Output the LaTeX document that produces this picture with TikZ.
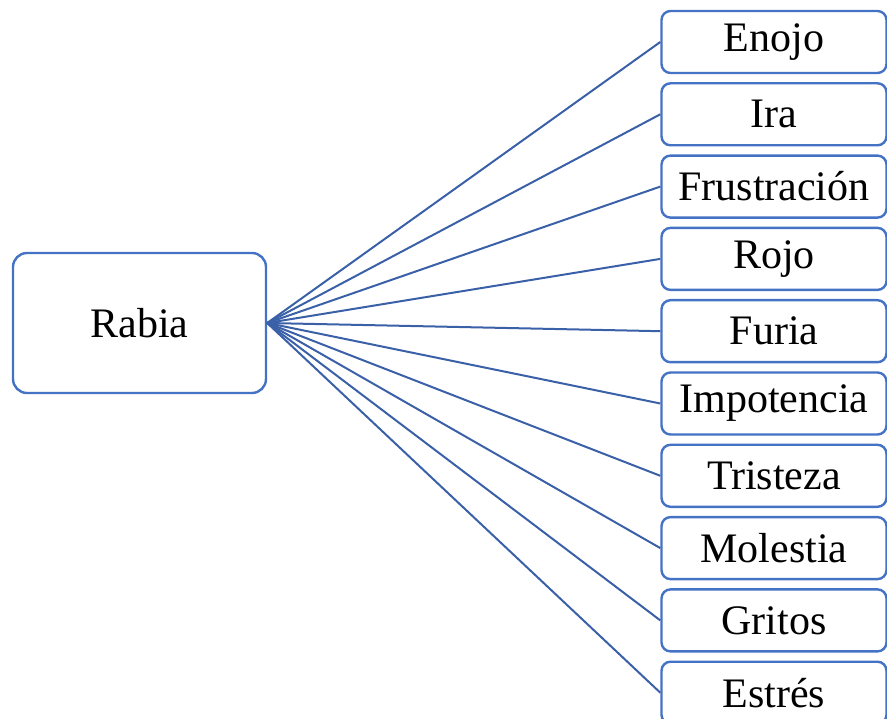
\documentclass[tikz,border=0pt]{standalone}
\usepackage{fontspec}
\setmainfont{Liberation Serif}
\definecolor{boxblue}{RGB}{68,114,196}
\definecolor{lineblue}{RGB}{58,96,168}
\begin{document}
\begin{tikzpicture}[x=1pt,y=-1pt,
  wordbox/.style={draw=boxblue, line width=2.4pt, rounded corners=9pt, fill=white,
    minimum width=225pt, minimum height=62pt, inner sep=0pt,
    font=\fontsize{42}{50}\selectfont},
  mainbox/.style={draw=boxblue, line width=2.4pt, rounded corners=14pt, fill=white,
    minimum width=253pt, minimum height=140pt, inner sep=0pt,
    font=\fontsize{42}{50}\selectfont},
  link/.style={draw=lineblue, line width=2pt}]
\useasboundingbox (0,0) rectangle (887,719);
\begin{scope}
\clip (0,0) rectangle (887,719);
\node[mainbox] (rabia) at (139.5,323) {Rabia};
\foreach \name/\word [count=\i from 0] in {enojo/Enojo, ira/Ira, frus/Frustración,
    rojo/Rojo, furia/Furia, impo/Impotencia, tris/Tristeza, mole/Molestia,
    grit/Gritos, estr/Estrés}{
  \node[wordbox] (\name) at (774, 42+72.3*\i) {\word};
  \draw[link] (rabia.east) -- (\name.west);
}
\end{scope}
\end{tikzpicture}
\end{document}
